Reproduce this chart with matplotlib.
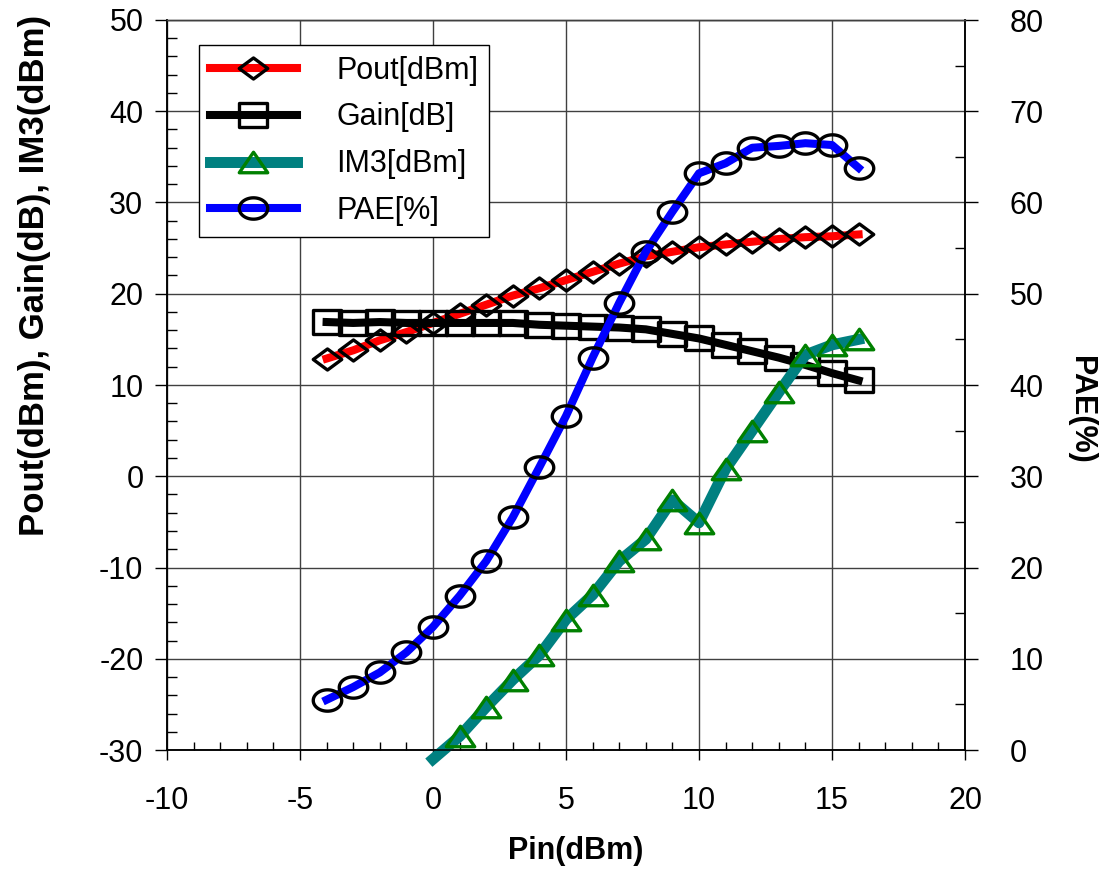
import numpy as np
import matplotlib
matplotlib.use('Agg')
import matplotlib.pyplot as plt
from matplotlib.path import Path
from matplotlib.ticker import MultipleLocator
from matplotlib.lines import Line2D

plt.rcParams['font.family'] = ['Liberation Sans', 'DejaVu Sans']
plt.rcParams['axes.unicode_minus'] = False

# ---------------- data ----------------
pin = [-4, -3, -2, -1, 0, 1, 2, 3, 4, 5, 6, 7, 8, 9, 10, 11, 12, 13, 14, 15, 16]
pout = [12.9, 13.8, 14.9, 15.8, 16.8, 17.8, 18.8, 19.8, 20.6, 21.5, 22.4,
        23.3, 24.1, 24.6, 25.1, 25.4, 25.7, 26.0, 26.2, 26.3, 26.5]
gain = [16.9, 16.8, 16.9, 16.8, 16.8, 16.8, 16.8, 16.8, 16.6, 16.5, 16.4,
        16.3, 16.1, 15.6, 15.1, 14.4, 13.7, 13.0, 12.2, 11.3, 10.5]
pae = [5.5, 6.9, 8.5, 10.7, 13.5, 16.9, 20.7, 25.5, 31.0, 36.6, 43.0,
       49.0, 54.6, 59.0, 63.2, 64.3, 66.0, 66.2, 66.5, 66.3, 63.8]
im3_pin = [0, 1, 2, 3, 4, 5, 6, 7, 8, 9, 10, 11, 12, 13, 14, 15, 16]
im3 = [-31.0, -28.5, -25.3, -22.3, -19.6, -15.7, -13.0, -9.3, -6.9, -2.6,
       -5.1, 0.8, 5.0, 9.2, 13.3, 14.4, 15.0]

labels = ['Pout[dBm]', 'Gain[dB]', 'IM3[dBm]', 'PAE[%]']

# ---------------- marker shapes (horizontally stretched) ----------------
def closed(verts):
    verts = list(verts) + [verts[0]]
    return Path(verts, closed=True)

diamond = closed([(-1, 0), (0, 0.74), (1, 0), (0, -0.74)])
square = closed([(-1, -0.81), (1, -0.81), (1, 0.81), (-1, 0.81)])
triangle = closed([(0, 0.72), (-1, -0.72), (1, -0.72)])
t = np.linspace(0, 2 * np.pi, 64)
ellipse = Path(np.column_stack([np.cos(t), 0.75 * np.sin(t)]), closed=True)

MS = 20.5
MEW = 2.4

styles = [
    dict(color='#FF0000', lw=5.8, marker=diamond, mec='black'),
    dict(color='black', lw=5.8, marker=square, mec='black'),
    dict(color='#008080', lw=7.9, marker=triangle, mec='#008000'),
    dict(color='#0000FF', lw=5.8, marker=ellipse, mec='black'),
]

fig = plt.figure(figsize=(11.06, 8.71), dpi=100)
ax = fig.add_axes([167 / 1106, 1 - 750 / 871, 798 / 1106, 730 / 871])
ax2 = ax.twinx()

common = dict(ms=MS, mew=MEW, mfc='none')
ax.plot(pin, pout, **styles[0], **common, zorder=3)
ax.plot(pin, gain, **styles[1], **common, zorder=4)
ax.plot(im3_pin, im3, **styles[2], **common, markevery=slice(1, None),
        zorder=5, clip_on=False)
ax2.plot(pin, pae, **styles[3], **common, zorder=3)

# axes limits and ticks
ax.set_xlim(-10, 20)
ax.set_ylim(-30, 50)
ax2.set_ylim(0, 80)
ax.xaxis.set_major_locator(MultipleLocator(5))
ax.xaxis.set_minor_locator(MultipleLocator(1))
ax.yaxis.set_major_locator(MultipleLocator(10))
ax.yaxis.set_minor_locator(MultipleLocator(2))
ax2.yaxis.set_major_locator(MultipleLocator(10))
ax2.yaxis.set_minor_locator(MultipleLocator(5))

ax.grid(True, which='major', color='0.25', lw=1.0)
ax.set_axisbelow(True)

ax.tick_params(axis='x', which='major', direction='out', length=7, width=1,
               pad=19, labelsize=22)
ax.tick_params(axis='x', which='minor', direction='in', length=5.5, width=1)
ax.tick_params(axis='y', which='major', direction='out', length=9, width=1,
               pad=8, labelsize=22, right=False)
ax.tick_params(axis='y', which='minor', direction='in', length=7, width=1,
               right=False)
ax2.tick_params(axis='y', which='major', direction='out', length=9, width=1,
                pad=23, labelsize=22)
ax2.tick_params(axis='y', which='minor', direction='in', length=7, width=1)

for a in (ax, ax2):
    for s in a.spines.values():
        s.set_linewidth(1.1)
        s.set_color('black')
    a.spines['top'].set_linewidth(1.0)
    a.spines['top'].set_color('0.25')

# labels
fig.text(35 / 1106, 1 - 275 / 871, 'Pout(dBm), Gain(dB), IM3(dBm)',
         rotation=90, ha='center', va='center', fontsize=25, fontweight='bold')
fig.text(1081 / 1106, 1 - 410 / 871, 'PAE(%)', rotation=270,
         ha='center', va='center', fontsize=22, fontweight='bold')
fig.text(576 / 1106, 1 - 851 / 871, 'Pin(dBm)', ha='center', va='center',
         fontsize=22, fontweight='bold')

# legend
handles = [Line2D([], [], **st, ms=MS, mew=MEW, mfc='none')
           for st in styles]
leg = ax2.legend(handles, labels, loc='upper left',
                 bbox_to_anchor=(199 / 1106, 1 - 45 / 871),
                 bbox_transform=fig.transFigure, borderaxespad=0,
                 fontsize=22, handlelength=2.85, handletextpad=1.3,
                 labelspacing=0.55, borderpad=0.35, frameon=True,
                 fancybox=False, edgecolor='black', framealpha=1)
leg.get_frame().set_linewidth(1.0)

fig.savefig('out.png', dpi=100)
